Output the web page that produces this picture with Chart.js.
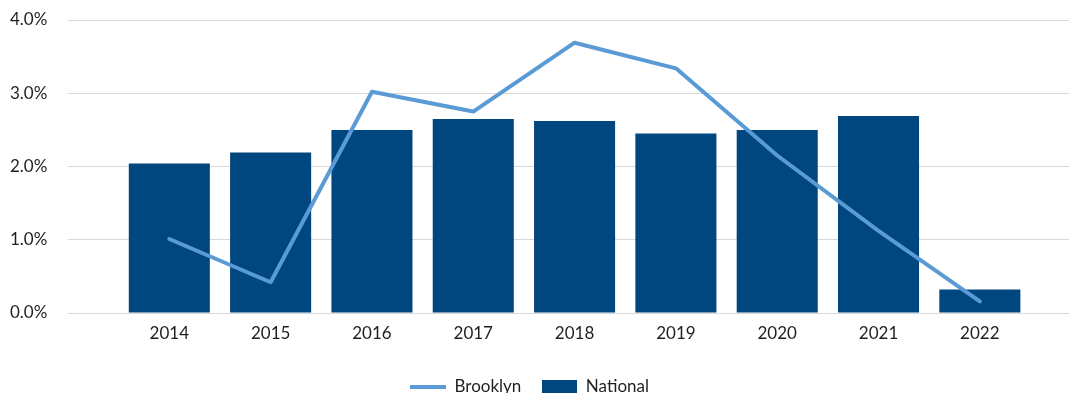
<!DOCTYPE html>
<html>
<head>
<meta charset="utf-8">
<script src="https://cdn.jsdelivr.net/npm/chart.js@4/dist/chart.umd.min.js"></script>
<style>
  html, body { margin: 0; padding: 0; background: #fff; }
  #wrap { width: 1069px; height: 393px; position: relative; }
</style>
</head>
<body>
<div id="wrap"><canvas id="chart"></canvas></div>
<script>
// Annual growth rates, Brooklyn vs. national
const years = ['2014', '2015', '2016', '2017', '2018', '2019', '2020', '2021', '2022'];
const brooklyn = [1.01, 0.42, 3.02, 2.75, 3.69, 3.34, 2.15, 1.12, 0.16];
const national = [2.04, 2.19, 2.50, 2.65, 2.62, 2.45, 2.50, 2.69, 0.32];
const yTicks = [0, 1, 2, 3, 4];

const lineColor = '#5b9bd5';
const barColor = '#00467f';
const textColor = '#1f1f1f';
const fontFamily = 'Lato, "Noto Sans", sans-serif';

// Legend swatches: a short stroke for the line series, a block for the bars
function swatch(w, h, color) {
  const c = document.createElement('canvas');
  c.width = w; c.height = h;
  const g = c.getContext('2d');
  g.fillStyle = color;
  g.fillRect(0, 0, w, h);
  return c;
}
const lineSwatch = swatch(36, 4, lineColor);
const barSwatch = swatch(35, 14, barColor);

const toPoints = arr => arr.map((v, i) => ({ x: i, y: v }));

// Nudge the legend row slightly left of the page centre
const legendNudge = {
  id: 'legendNudge',
  afterLayout(chart) {
    const lg = chart.legend;
    if (lg) { lg.left -= 10; lg.right -= 10; }
  }
};

new Chart(document.getElementById('chart'), {
  data: {
    datasets: [
      {
        type: 'line',
        label: 'Brooklyn',
        data: toPoints(brooklyn),
        borderColor: lineColor,
        backgroundColor: lineColor,
        borderWidth: 4,
        borderCapStyle: 'round',
        borderJoinStyle: 'round',
        tension: 0,
        pointRadius: 0,
        pointHoverRadius: 0,
        order: 0
      },
      {
        type: 'bar',
        label: 'National',
        data: toPoints(national),
        backgroundColor: barColor,
        borderWidth: 0,
        categoryPercentage: 1,
        barPercentage: 0.8,
        order: 1
      }
    ]
  },
  plugins: [legendNudge],
  options: {
    responsive: true,
    maintainAspectRatio: false,
    animation: false,
    layout: { padding: { top: 20, right: 0, bottom: -12, left: 10 } },
    scales: {
      x: {
        type: 'linear',
        offset: false,
        min: -1,
        max: 8.88,
        grid: { display: false },
        border: { display: false },
        ticks: {
          stepSize: 1,
          includeBounds: false,
          autoSkip: false,
          maxRotation: 0,
          padding: 2,
          color: textColor,
          font: { family: fontFamily, size: 17 },
          callback: v => (Number.isInteger(v) && years[v] !== undefined) ? years[v] : ''
        },
        afterFit: s => { s.height = 45; }
      },
      y: {
        min: 0,
        max: 4,
        afterBuildTicks: s => { s.ticks = yTicks.map(v => ({ value: v })); },
        grid: { color: '#d9d9d9', lineWidth: 1, drawTicks: false },
        border: { display: false },
        ticks: {
          padding: 0,
          crossAlign: 'far',
          color: textColor,
          font: { family: fontFamily, size: 17 },
          callback: v => v.toFixed(1) + '%'
        },
        afterFit: s => { s.width = 58; }
      }
    },
    plugins: {
      tooltip: { enabled: false },
      legend: {
        position: 'bottom',
        labels: {
          usePointStyle: true,
          pointStyleWidth: 36,
          boxHeight: 14,
          padding: 20,
          color: textColor,
          font: { family: fontFamily, size: 17 },
          generateLabels: chart => {
            const items = Chart.defaults.plugins.legend.labels.generateLabels(chart);
            items.forEach(it => {
              it.pointStyle = it.datasetIndex === 0 ? lineSwatch : barSwatch;
            });
            return items;
          }
        }
      }
    }
  }
});
</script>
</body>
</html>
